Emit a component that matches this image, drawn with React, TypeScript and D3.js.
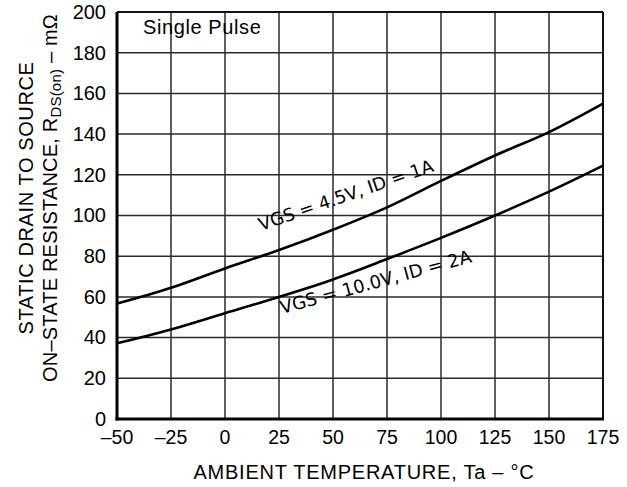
import { useEffect, useRef } from "react";
import * as d3 from "d3";

const temps = [-50, -25, 0, 25, 50, 75, 100, 125, 150, 175];
const vgs45 = [56.7, 64.5, 74, 83, 93, 104, 117, 129.5, 141, 155];
const vgs10 = [37.2, 44, 52, 60, 68.6, 78.6, 89, 100, 111.7, 124.5];
const yTicks = [0, 20, 40, 60, 80, 100, 120, 140, 160, 180, 200];
const xTicks = [-50, -25, 0, 25, 50, 75, 100, 125, 150, 175];

const W = 627;
const H = 487;
const margin = { top: 12, right: 24, bottom: 68, left: 117 };

export default function App() {
  const svgRef = useRef<SVGSVGElement>(null);

  useEffect(() => {
    const svg = d3.select(svgRef.current);
    svg.selectAll("*").remove();

    const x = d3.scaleLinear().domain([-50, 175]).range([margin.left, W - margin.right]);
    const y = d3.scaleLinear().domain([0, 200]).range([H - margin.bottom, margin.top]);
    const font = "'Liberation Sans', Arial, sans-serif";

    // grid
    const grid = svg.append("g").attr("stroke", "#2a2a2a").attr("stroke-width", 1.5);
    grid.selectAll("line.v").data(xTicks.slice(1)).join("line")
      .attr("x1", d => x(d)).attr("x2", d => x(d))
      .attr("y1", y(0)).attr("y2", y(200));
    grid.selectAll("line.h").data(yTicks.slice(1)).join("line")
      .attr("x1", x(-50)).attr("x2", x(175))
      .attr("y1", d => y(d)).attr("y2", d => y(d));
    // frame
    svg.append("line").attr("x1", x(-50)).attr("x2", x(175)).attr("y1", y(200)).attr("y2", y(200))
      .attr("stroke", "#111").attr("stroke-width", 2);
    svg.append("line").attr("x1", x(175)).attr("x2", x(175)).attr("y1", y(0)).attr("y2", y(200))
      .attr("stroke", "#111").attr("stroke-width", 2);
    svg.append("line").attr("x1", x(-50)).attr("x2", x(-50)).attr("y1", y(0) + 1.5).attr("y2", y(200))
      .attr("stroke", "#000").attr("stroke-width", 3);
    svg.append("line").attr("x1", x(-50) - 1.5).attr("x2", x(175) + 1).attr("y1", y(0)).attr("y2", y(0))
      .attr("stroke", "#000").attr("stroke-width", 3);

    // ticks
    svg.append("g").selectAll("text").data(yTicks).join("text")
      .attr("x", 106).attr("y", d => y(d)).attr("dy", "0.34em")
      .attr("text-anchor", "end").attr("font-family", font).attr("font-size", 20)
      .text(d => d);
    svg.append("g").selectAll("text").data(xTicks).join("text")
      .attr("x", d => x(d)).attr("y", 444)
      .attr("text-anchor", "middle").attr("font-family", font).attr("font-size", 19.5)
      .text(d => (d < 0 ? "\u2013" + Math.abs(d) : String(d)));

    // curves
    const line = d3.line<number>()
      .x((_, i) => x(temps[i]))
      .y(d => y(d))
      .curve(d3.curveMonotoneX);
    [vgs45, vgs10].forEach(s => {
      svg.append("path").attr("d", line(s)).attr("fill", "none")
        .attr("stroke", "#000").attr("stroke-width", 2.6);
    });

    // annotations
    const dv = "'DejaVu Sans', sans-serif";
    svg.append("text").attr("transform", "translate(261,231) rotate(-19)")
      .attr("font-family", dv).attr("font-size", 17.8).text("VGS = 4.5V, ID = 1A");
    svg.append("text").attr("transform", "translate(282,314) rotate(-15.3)")
      .attr("font-family", dv).attr("font-size", 18).text("VGS = 10.0V, ID = 2A");
    svg.append("text").attr("x", 143).attr("y", 34).attr("letter-spacing", 0.6)
      .attr("font-family", font).attr("font-size", 20).text("Single Pulse");

    // axis titles
    svg.append("text").attr("x", 364).attr("y", 479).attr("text-anchor", "middle")
      .attr("letter-spacing", 0.75)
      .attr("font-family", font).attr("font-size", 20).text("AMBIENT TEMPERATURE, Ta \u2013 \u00b0C");
    const yt = svg.append("g").attr("transform", "translate(0,198) rotate(-90)")
      .attr("font-family", font).attr("font-size", 20).attr("letter-spacing", 0.6);
    yt.append("text").attr("x", 0).attr("y", 33).attr("text-anchor", "middle").text("STATIC DRAIN TO SOURCE");
    const t2 = yt.append("text").attr("x", 0).attr("y", 57).attr("text-anchor", "middle")
      .attr("letter-spacing", 0.2);
    t2.append("tspan").text("ON\u2013STATE RESISTANCE, R");
    t2.append("tspan").attr("font-size", 15).attr("dy", 4).text("DS(on)");
    t2.append("tspan").attr("dy", -4).text(" \u2013 m\u03a9");
  }, []);

  return <svg ref={svgRef} width={W} height={H} style={{ position: "absolute", left: 0, top: 0, background: "#fff" }} />;
}
